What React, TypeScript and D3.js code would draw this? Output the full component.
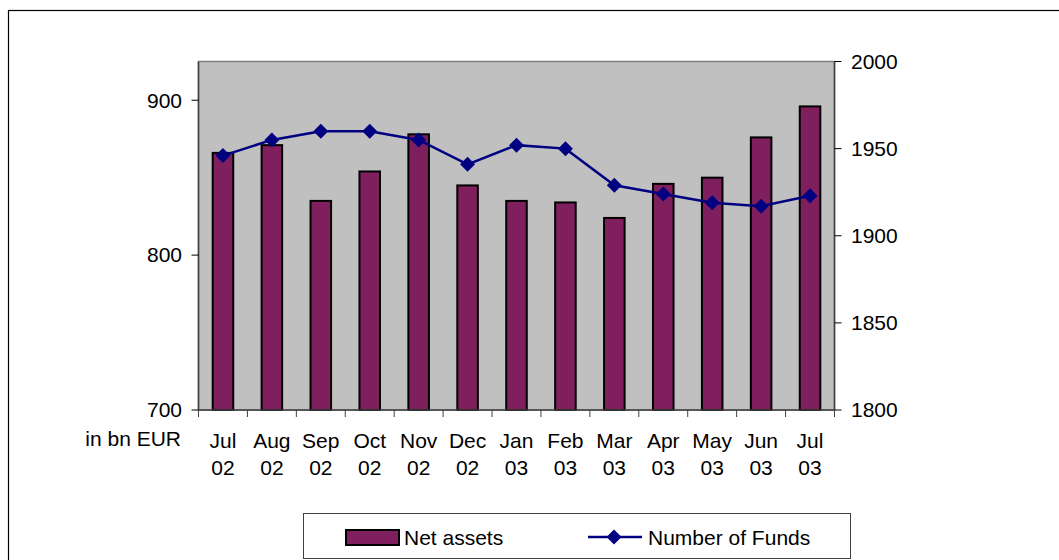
import React from "react";
import * as d3 from "d3";

const months = ["Jul", "Aug", "Sep", "Oct", "Nov", "Dec", "Jan", "Feb", "Mar", "Apr", "May", "Jun", "Jul"];
const years = ["02", "02", "02", "02", "02", "02", "03", "03", "03", "03", "03", "03", "03"];
const netAssets = [866, 871, 835, 854, 878, 845, 835, 834, 824, 846, 850, 876, 896];
const numberOfFunds = [1946, 1955, 1960, 1960, 1955, 1941, 1952, 1950, 1929, 1924, 1919, 1917, 1923];
const leftTicks = [700, 800, 900];
const rightTicks = [1800, 1850, 1900, 1950, 2000];

const W = 1059;
const H = 560;
const PL = 198.5, PR = 834.5, PT = 61.5, PB = 410;
const FONT = "'Liberation Sans', Arial, sans-serif";
const FS = 21;

export default function App() {
  const idx = months.map((_, i) => i);
  const x = d3.scaleBand<number>().domain(idx).range([PL, PR]).paddingInner(0).paddingOuter(0);
  const yL = d3.scaleLinear().domain([700, 925]).range([PB, PT]);
  const yR = d3.scaleLinear().domain([1800, 2000]).range([PB, PT]);
  const bw = x.bandwidth();
  const barW = bw * 0.42;
  const cx = (i: number) => (x(i) as number) + bw / 2;
  const line = d3.line<number>().x((_, i) => cx(i)).y((d) => yR(d));
  const diamond = (px: number, py: number, r: number) =>
    `M${px},${py - r}L${px + r},${py}L${px},${py + r}L${px - r},${py}Z`;

  return (
    <svg width={W} height={H} style={{ position: "absolute", left: 0, top: 0, background: "#fff" }} fontFamily={FONT}>
      <rect x={8.5} y={10.5} width={W + 10} height={H + 10} fill="none" stroke="#000" strokeWidth={1.2} />
      <rect x={PL} y={PT} width={PR - PL} height={PB - PT} fill="#C0C0C0" stroke="#808080" strokeWidth={1.5} />
      {idx.map((i) => (
        <rect key={"b" + i} x={cx(i) - barW / 2} y={yL(netAssets[i])} width={barW} height={PB - yL(netAssets[i])}
          fill="#801F5E" stroke="#000" strokeWidth={2} />
      ))}
      {/* axes */}
      <line x1={PL} x2={PL} y1={PT} y2={PB} stroke="#404040" strokeWidth={1.5} />
      <line x1={PR} x2={PR} y1={PT} y2={PB} stroke="#404040" strokeWidth={1.5} />
      <line x1={PL} x2={PR} y1={PB} y2={PB} stroke="#404040" strokeWidth={1.5} />
      {leftTicks.map((t) => (
        <g key={"l" + t}>
          <line x1={PL - 7} x2={PL} y1={yL(t)} y2={yL(t)} stroke="#000" strokeWidth={1} />
          <text x={182} y={yL(t)} dy="0.35em" textAnchor="end" fontSize={FS}>{t}</text>
        </g>
      ))}
      {rightTicks.map((t) => (
        <g key={"r" + t}>
          <line x1={PR} x2={PR + 7} y1={yR(t)} y2={yR(t)} stroke="#000" strokeWidth={1} />
          <text x={851} y={yR(t)} dy="0.35em" textAnchor="start" fontSize={FS}>{t}</text>
        </g>
      ))}
      {d3.range(months.length + 1).map((i) => {
        const tx = PL + i * bw;
        return <line key={"t" + i} x1={tx} x2={tx} y1={PB} y2={PB + 7} stroke="#404040" strokeWidth={1} />;
      })}
      {idx.map((i) => (
        <g key={"x" + i}>
          <text x={cx(i)} y={448} textAnchor="middle" fontSize={FS}>{months[i]}</text>
          <text x={cx(i)} y={475} textAnchor="middle" fontSize={FS}>{years[i]}</text>
        </g>
      ))}
      <text x={181} y={446} textAnchor="end" fontSize={FS}>in bn EUR</text>
      {/* line series */}
      <path d={line(numberOfFunds) || ""} fill="none" stroke="#000080" strokeWidth={2.5} />
      {idx.map((i) => (
        <path key={"m" + i} d={diamond(cx(i), yR(numberOfFunds[i]), 7.5)} fill="#000080" />
      ))}
      {/* legend */}
      <rect x={303.5} y={513.5} width={547} height={45} fill="#fff" stroke="#404040" strokeWidth={1} />
      <rect x={346} y={530} width={53} height={15} fill="#801F5E" stroke="#000" strokeWidth={2} />
      <text x={404} y={545} fontSize={FS}>Net assets</text>
      <line x1={588} x2={642} y1={537} y2={537} stroke="#000080" strokeWidth={2.5} />
      <path d={diamond(614, 537, 7.5)} fill="#000080" />
      <text x={648} y={545} fontSize={FS}>Number of Funds</text>
    </svg>
  );
}
